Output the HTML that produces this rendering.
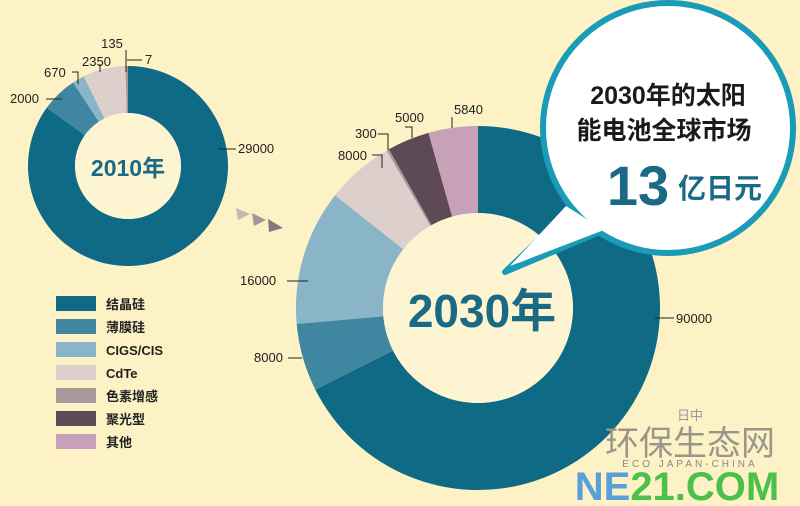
<!DOCTYPE html>
<html><head><meta charset="utf-8"><style>
html,body{margin:0;padding:0;background:#fcf2c5;}
svg{display:block}
text{font-family:"Liberation Sans","Noto Sans CJK SC",sans-serif;}
</style></head><body>
<svg id="s" width="800" height="506" viewBox="0 0 800 506" xmlns="http://www.w3.org/2000/svg">
<rect width="800" height="506" fill="#fcf2c5"/>
<g id="d1"></g><g id="d2"></g>
<circle cx="128" cy="166" r="53" fill="#fdf5d2"/>
<text x="128" y="176" text-anchor="middle" font-size="23" font-weight="bold" fill="#1a6a85">2010年</text>
<circle cx="478" cy="308" r="95" fill="#fdf5d2"/>
<text x="482" y="327" text-anchor="middle" font-size="46" font-weight="bold" fill="#1a6a85">2030年</text>
<!-- arrows -->
<polygon points="236,208 250,214 238,220" fill="#c9b7b8"/>
<polygon points="252,213 266,220 254,226" fill="#a8959a"/>
<polygon points="268,219 283,228 269,232" fill="#8a767d"/>
<!-- labels small -->
<g font-size="13" fill="#222" stroke="none">
<text x="112" y="48" text-anchor="middle">135</text>
<text x="145" y="64">7</text>
<text x="82" y="66">2350</text>
<text x="44" y="77">670</text>
<text x="10" y="103">2000</text>
<text x="238" y="153">29000</text>
<text x="240" y="285">16000</text>
<text x="254" y="362">8000</text>
<text x="338" y="160">8000</text>
<text x="355" y="138">300</text>
<text x="395" y="122">5000</text>
<text x="454" y="114">5840</text>
<text x="676" y="323">90000</text>
</g>
<g stroke="#222" stroke-width="1" fill="none">
<path d="M126,50 V72"/><path d="M127,60 H142"/><path d="M100,64 V72"/>
<path d="M72,72 H78 V84"/><path d="M46,99 H62"/><path d="M218,149 H236"/>
<path d="M287,281 H308"/><path d="M288,358 H302"/><path d="M372,155 H382 V168"/>
<path d="M378,134 H388 V150"/><path d="M405,127 H412 V138"/><path d="M452,117 V128"/><path d="M655,318 H674"/>
</g>
<!-- legend -->
<g font-size="13" font-weight="bold" fill="#222">
<rect x="56" y="296" width="40" height="15" fill="#0e6a85"/><text x="106" y="309">结晶硅</text>
<rect x="56" y="319" width="40" height="15" fill="#3f87a0"/><text x="106" y="332">薄膜硅</text>
<rect x="56" y="342" width="40" height="15" fill="#8ab4c8"/><text x="106" y="355">CIGS/CIS</text>
<rect x="56" y="365" width="40" height="15" fill="#ddd0cc"/><text x="106" y="378">CdTe</text>
<rect x="56" y="388" width="40" height="15" fill="#a89a9c"/><text x="106" y="401">色素增感</text>
<rect x="56" y="411" width="40" height="15" fill="#5e4a55"/><text x="106" y="424">聚光型</text>
<rect x="56" y="434" width="40" height="15" fill="#c8a0b8"/><text x="106" y="447">其他</text>
</g>
<!-- bubble -->
<path d="M570,210 L505,272 L600,232 Z" fill="#fff" stroke="#1a9bb8" stroke-width="6" stroke-linejoin="round"/>
<circle cx="668" cy="128" r="125" fill="#fff" stroke="#1a9bb8" stroke-width="6"/>
<path d="M566,206 L510,266 L604,230 Z" fill="#fff"/>
<g fill="#1a1a1a" font-weight="bold" text-anchor="middle">
<text x="668" y="104" font-size="25">2030年的太阳</text>
<text x="664" y="139" font-size="25">能电池全球市场</text>
<text x="638" y="205" font-size="56" fill="#1a6a85">13</text>
<text x="720" y="198" font-size="28" fill="#1a6a85">亿日元</text>
</g>
<!-- watermark -->
<g text-anchor="middle">
<text x="690" y="420" font-size="13" fill="#999">日中</text>
<text x="690" y="455" font-size="34" fill="#9b968a" font-family="Liberation Serif,Noto Serif CJK SC,serif">环保生态网</text>
<text x="690" y="467" font-size="10" fill="#888" letter-spacing="3">ECO JAPAN-CHINA</text>
<text x="677" y="500" font-size="40" font-weight="bold"><tspan fill="#5aa0d8">NE</tspan><tspan fill="#4cc04a">21.COM</tspan></text>
</g>
</svg>
<script>
function arcs(g,cx,cy,R,r,vals,cols){
 var t=vals.reduce((a,b)=>a+b,0),a=0,h='';
 vals.forEach(function(v,i){
  var a0=a,a1=a+v/t*2*Math.PI;a=a1;
  var p=(ang,rad)=>[cx+rad*Math.sin(ang),cy-rad*Math.cos(ang)];
  var L=(a1-a0)>Math.PI?1:0,o0=p(a0,R),o1=p(a1,R),i1=p(a1,r),i0=p(a0,r);
  h+='<path fill="'+cols[i]+'" d="M'+o0+' A'+R+','+R+' 0 '+L+' 1 '+o1+' L'+i1+' A'+r+','+r+' 0 '+L+' 0 '+i0+' Z"/>';
 });
 document.getElementById(g).innerHTML=h;
}
var C=['#0e6a85','#3f87a0','#8ab4c8','#ddd0cc','#a89a9c','#5e4a55','#c8a0b8'];
arcs('d1',128,166,100,53,[29000,2000,670,2350,135,7],['#0e6a85','#3f87a0','#8ab4c8','#ddd0cc','#a89a9c','#5e4a55']);
arcs('d2',478,308,182,95,[90000,8000,16000,8000,300,5000,5840],C);
</script>
</body></html>
